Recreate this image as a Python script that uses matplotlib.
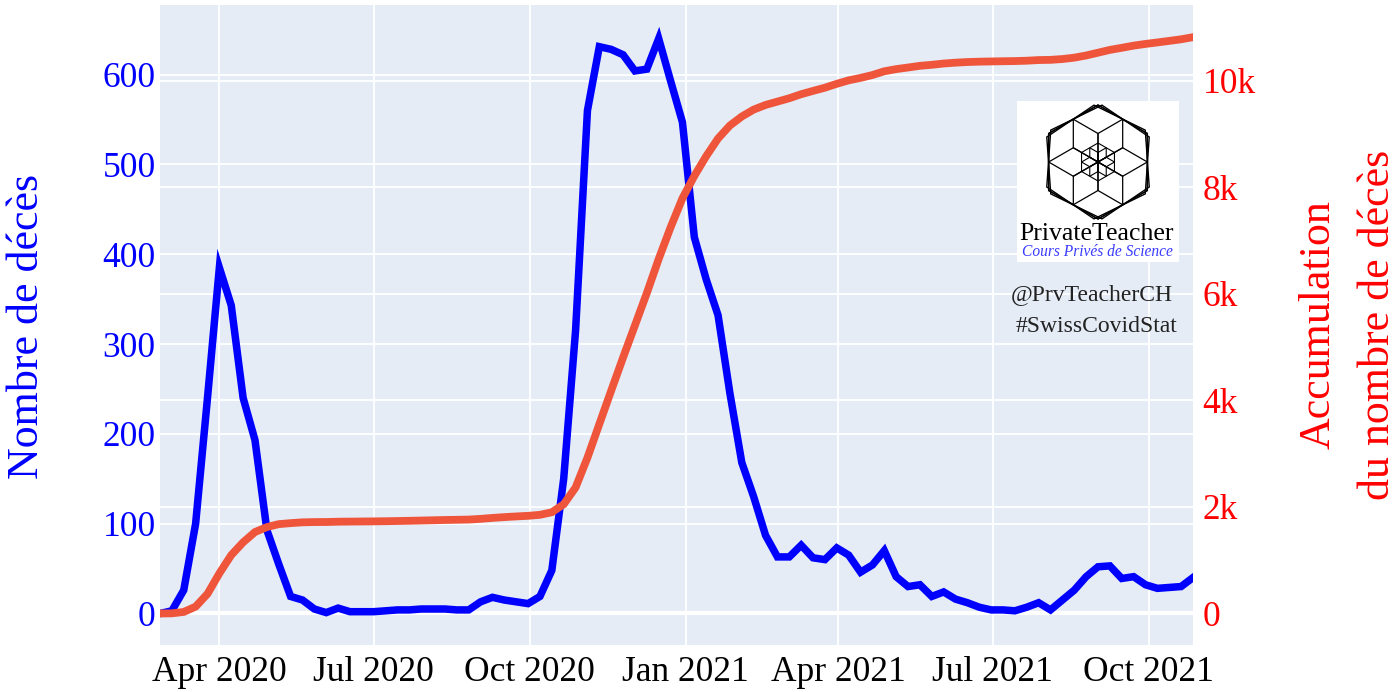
import matplotlib
matplotlib.use('Agg')
import matplotlib.pyplot as plt
import numpy as np
import pandas as pd
from matplotlib.patches import Polygon, Rectangle

plt.rcParams['font.family'] = ['Liberation Serif', 'DejaVu Serif']

# ---------------- data (weekly) ----------------
first_week = '2020-02-26'
weekly_deaths = [0, 3, 26, 100, 240, 385, 343, 240, 193, 93,
                 55, 19, 15, 5, 1, 6, 2, 2, 2, 3,
                 4, 4, 5, 5, 5, 4, 4, 13, 18, 15,
                 13, 11, 19, 48, 150, 315, 560, 631, 628, 622,
                 604, 606, 640, 593, 547, 419, 372, 332, 245, 168,
                 130, 87, 63, 63, 76, 62, 60, 73, 65, 46,
                 54, 70, 41, 30, 32, 19, 24, 16, 12, 7,
                 4, 4, 3, 7, 12, 4, 15, 26, 41, 52,
                 53, 39, 41, 32, 28, 29, 30, 40]
cumulative_deaths = [0, 3, 29, 129, 369, 754, 1097, 1337, 1530, 1623,
                     1678, 1697, 1712, 1717, 1718, 1724, 1726, 1728, 1730, 1733,
                     1737, 1741, 1746, 1751, 1756, 1760, 1764, 1777, 1795, 1810,
                     1823, 1834, 1853, 1901, 2051, 2366, 2926, 3557, 4185, 4807,
                     5411, 6017, 6657, 7250, 7797, 8216, 8588, 8920, 9165, 9333,
                     9463, 9550, 9613, 9676, 9752, 9814, 9874, 9947, 10012, 10058,
                     10112, 10182, 10223, 10253, 10285, 10304, 10328, 10344, 10356, 10363,
                     10367, 10371, 10374, 10381, 10393, 10397, 10412, 10438, 10479, 10531,
                     10584, 10623, 10664, 10696, 10724, 10753, 10783, 10823]

x_tick_dates = ['2020-04-01', '2020-07-01', '2020-10-01', '2021-01-01',
                '2021-04-01', '2021-07-01', '2021-10-01']
x_tick_labels = ['Apr 2020', 'Jul 2020', 'Oct 2020', 'Jan 2021',
                 'Apr 2021', 'Jul 2021', 'Oct 2021']
left_ticks = [0, 100, 200, 300, 400, 500, 600]
right_ticks = [0, 2000, 4000, 6000, 8000, 10000]
right_tick_labels = ['0', '2k', '4k', '6k', '8k', '10k']

dates = pd.date_range(first_week, periods=len(weekly_deaths), freq='7D')

# ---------------- figure ----------------
W, H = 1400, 692
fig = plt.figure(figsize=(W / 100, H / 100), dpi=100)
fig.patch.set_facecolor('white')


def fx(x):
    return x / W


def fy(y):
    return 1 - y / H


BG = '#E5ECF6'
BLUE = '#0000FF'
RED_LINE = '#EF553B'
RED_TXT = '#FF0000'
TICK_FS = 25.5

ax = fig.add_axes([fx(160), fy(645), fx(1193) - fx(160), fy(5) - fy(645)])
ax.set_facecolor(BG)
for s in ax.spines.values():
    s.set_visible(False)

l0, l1 = -35.07, 677.4
r0, r1 = -591.5, 11427
ax.set_ylim(l0, l1)
ax.set_xlim(dates[0], dates[-1])

ax.set_yticks(left_ticks)
ax.set_xticks(pd.to_datetime(x_tick_dates))
ax.set_xticklabels(x_tick_labels)
ax.set_axisbelow(True)
ax.grid(True, color='white', lw=1.3, zorder=0.5)

# right-axis gridlines drawn beneath the data
for v in right_ticks:
    yf = (v - r0) / (r1 - r0)
    ax.plot([0, 1], [yf, yf], transform=ax.transAxes, color='white', lw=1.3, zorder=0.6)
ax.axhline(0, color='white', lw=3.0, zorder=0.9)

ax.plot(dates, weekly_deaths, color=BLUE, lw=5.4, zorder=2, solid_joinstyle='miter')

ax.tick_params(axis='y', length=0, pad=3, labelsize=TICK_FS, labelcolor=BLUE)
ax.tick_params(axis='x', length=0, pad=8, labelsize=TICK_FS, labelcolor='black')

ax2 = ax.twinx()
ax2.patch.set_visible(False)
for s in ax2.spines.values():
    s.set_visible(False)
ax2.set_ylim(r0, r1)
ax2.set_yticks(right_ticks)
ax2.set_yticklabels(right_tick_labels)
ax2.tick_params(axis='y', length=0, pad=7, labelsize=TICK_FS, labelcolor=RED_TXT)
ax2.plot(dates, cumulative_deaths, color=RED_LINE, lw=5.6, zorder=3, solid_joinstyle='miter')

# axis titles
fig.text(fx(27), fy(326), 'Nombre de décès', rotation=90, ha='center', va='center',
         fontsize=31.7, color=BLUE)
fig.text(fx(1319), fy(325), 'Accumulation', rotation=90, ha='center', va='center',
         fontsize=31.7, color=RED_TXT)
fig.text(fx(1378), fy(325), 'du nombre de décès', rotation=90, ha='center', va='center',
         fontsize=31.7, color=RED_TXT)

# annotations
fig.text(fx(1092), fy(295), '@PrvTeacherCH', ha='center', va='center', fontsize=17, color='#222222')
fig.text(fx(1097), fy(327), '#SwissCovidStat', ha='center', va='center', fontsize=17, color='#222222')

# logo
bx0, bx1, by0, by1 = 1017, 1179, 101, 262
lax = fig.add_axes([fx(bx0), fy(by1), fx(bx1) - fx(bx0), fy(by0) - fy(by1)], zorder=5)
lax.set_xlim(bx0, bx1)
lax.set_ylim(by1, by0)
lax.axis('off')
lax.add_patch(Rectangle((0, 0), 1, 1, transform=lax.transAxes, color='white', zorder=0))


def hexagon(cx, cy, r, rot=0.0):
    a = np.deg2rad(90 + 60 * np.arange(6) + rot)
    return np.column_stack([cx + r * np.cos(a), cy - r * np.sin(a)])


cx, cy, R = 1098, 162, 57
for rot in (-4, 0, 4):
    lax.add_patch(Polygon(hexagon(cx, cy, R, rot), closed=True, fill=False, ec='black', lw=1.0))
r = R / 2
for k in range(6):
    a = np.deg2rad(30 + 60 * k)
    lax.add_patch(Polygon(hexagon(cx + r * np.cos(a), cy - r * np.sin(a), r), closed=True,
                          fill=False, ec='black', lw=0.9))
rs = R / 6
for k in range(6):
    a = np.deg2rad(30 + 60 * k)
    lax.add_patch(Polygon(hexagon(cx + rs * np.cos(a), cy - rs * np.sin(a), rs), closed=True,
                          fill=False, ec='black', lw=0.8))

lax.text(1097, 234, 'PrivateTeacher', ha='center', va='center', fontsize=18.5, color='black')
lax.text(1097, 252, 'Cours Privés de Science', ha='center', va='center', fontsize=11.2,
         style='italic', color='#3a3aff')

fig.savefig('out.png', dpi=100, facecolor='white')
